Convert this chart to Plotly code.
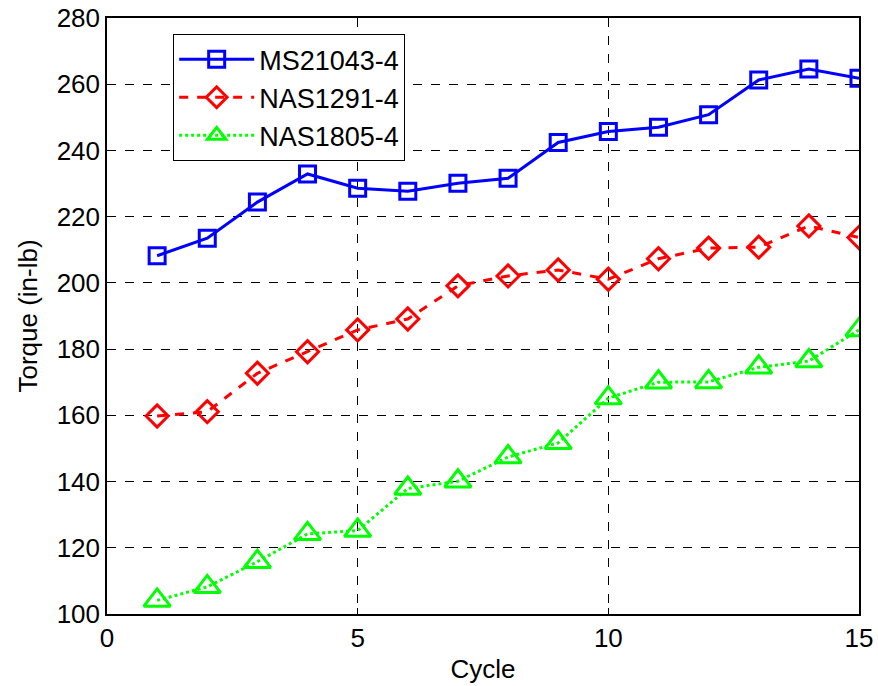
import plotly.graph_objects as go

cycles = list(range(1, 16))
ms21043 = [208.2, 213.5, 224.4, 232.9, 228.6, 227.7, 230.1, 231.6,
           242.4, 245.7, 247.0, 250.8, 261.3, 264.6, 261.8]
nas1291 = [159.8, 161.1, 172.7, 179.2, 185.8, 189.1, 199.1, 202.1,
           203.9, 201.1, 207.3, 210.5, 210.8, 217.2, 213.7]
nas1805 = [104.1, 108.2, 115.8, 124.2, 125.2, 137.9, 140.1, 147.4,
           151.7, 165.2, 170.0, 170.1, 174.5, 176.4, 185.8]

series = [
    ("MS21043-4", ms21043, "#0000FF", "solid", "square-open", 16),
    ("NAS1291-4", nas1291, "#FF0000", "dash", "diamond-open", 17),
    ("NAS1805-4", nas1805, "#00FF00", "dot", "triangle-up-open", 23),
]

FONT = "Liberation Sans, Arial, sans-serif"

fig = go.Figure()
for name, vals, color, dash, symbol, size in series:
    fig.add_trace(go.Scatter(
        x=cycles, y=vals, name=name, mode="lines+markers",
        line=dict(color=color, width=3, dash=dash),
        marker=dict(symbol=symbol, size=size, color=color,
                    line=dict(color=color, width=3)),
    ))

axis_common = dict(
    showline=True, linecolor="black", linewidth=1.5, mirror="allticks",
    ticks="inside", ticklen=6, tickcolor="black", tickwidth=1,
    showgrid=True, gridcolor="black", gridwidth=1, griddash="dash",
    zeroline=False, automargin=False,
    tickfont=dict(family=FONT, size=26, color="black"),
    title_font=dict(family=FONT, size=26, color="black"),
)

fig.update_xaxes(range=[0, 15], tickvals=[0, 5, 10, 15], title_text="Cycle",
                 title_standoff=8, **axis_common)
fig.update_yaxes(range=[100, 280], dtick=20, title_text="Torque (in-lb)",
                 title_standoff=12, **axis_common)

fig.update_layout(
    width=878, height=686,
    margin=dict(l=107, r=19, t=18, b=72),
    plot_bgcolor="white", paper_bgcolor="white",
    legend=dict(
        x=0.088, y=0.973, xanchor="left", yanchor="top",
        bgcolor="white", bordercolor="black", borderwidth=1,
        font=dict(family=FONT, size=27, color="black"),
        itemwidth=75, tracegroupgap=0,
    ),
)

fig.write_html("out.html")
